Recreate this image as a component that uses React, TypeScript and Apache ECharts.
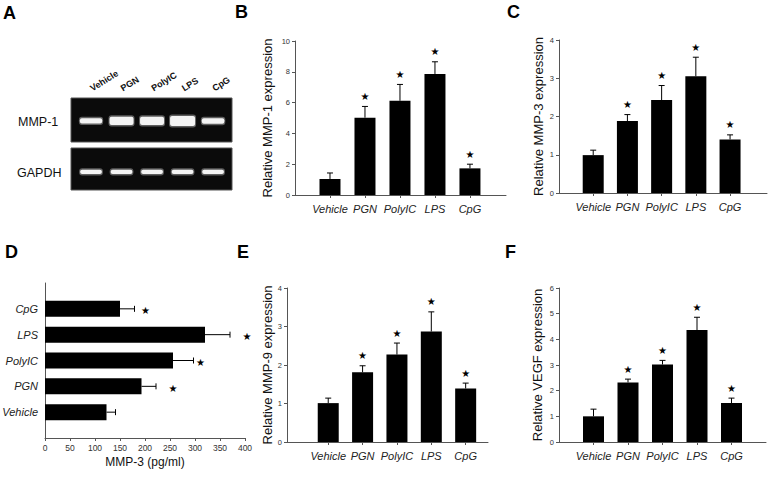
import React, { useEffect, useRef } from 'react';
import * as echarts from 'echarts';

// ---------- data ----------
const categories = ['Vehicle', 'PGN', 'PolyIC', 'LPS', 'CpG'];
const significant = [false, true, true, true, true];

// B: Relative MMP-1 expression
const mmp1Values = [1.04, 5.02, 6.12, 7.86, 1.73];
const mmp1ErrorTop = [1.43, 5.75, 7.18, 8.65, 2.0];
const mmp1Ticks = [0, 2, 4, 6, 8, 10];

// C: Relative MMP-3 expression
const mmp3Values = [0.99, 1.88, 2.43, 3.05, 1.4];
const mmp3ErrorTop = [1.12, 2.05, 2.81, 3.55, 1.52];
const mmp3Ticks = [0, 1, 2, 3, 4];

// D: MMP-3 (pg/ml)
const mmp3PgValues = [123, 193, 256, 320, 150];
const mmp3PgErrorEnd = [141, 222, 297, 370, 179];
const mmp3PgStarAt = [0, 256, 311, 404, 201];
const mmp3PgTicks = [0, 50, 100, 150, 200, 250, 300, 350, 400];

// E: Relative MMP-9 expression
const mmp9Values = [1.01, 1.81, 2.27, 2.87, 1.39];
const mmp9ErrorTop = [1.14, 1.98, 2.57, 3.38, 1.53];
const mmp9Ticks = [0, 1, 2, 3, 4];

// F: Relative VEGF expression
const vegfValues = [1.0, 2.32, 3.02, 4.36, 1.52];
const vegfErrorTop = [1.28, 2.45, 3.18, 4.86, 1.71];
const vegfTicks = [0, 1, 2, 3, 4, 5, 6];

// A: gel band relative intensities
const mmp1Bands = [0.45, 0.8, 0.8, 1.0, 0.5];
const gapdhBands = [0.35, 0.35, 0.35, 0.35, 0.35];

// ---------- styling ----------
const FONT = '"Liberation Sans", Arial, sans-serif';
const AXIS_COLOR = '#555';
const TEXT_COLOR = '#222';
const lanePositions = categories.map((_, i) => i + 1);

function verticalOverlay(params: any, api: any) {
  const x = api.value(0);
  const base = api.coord([x, api.value(1)]);
  const tip = api.coord([x, api.value(2)]);
  const children: any[] = [
    { type: 'line', shape: { x1: tip[0], y1: base[1], x2: tip[0], y2: tip[1] }, style: { stroke: '#000', lineWidth: 1 } },
    { type: 'line', shape: { x1: tip[0] - 3, y1: tip[1], x2: tip[0] + 3, y2: tip[1] }, style: { stroke: '#000', lineWidth: 1 } },
  ];
  if (api.value(3) > 0) {
    children.push({
      type: 'text',
      x: tip[0],
      y: tip[1] - 10,
      style: { text: '★', fill: '#000', fontSize: 10, fontFamily: 'DejaVu Sans', align: 'center', verticalAlign: 'middle' },
    });
  }
  return { type: 'group', children };
}

function horizontalOverlay(params: any, api: any) {
  const y = api.value(1);
  const base = api.coord([api.value(2), y]);
  const end = api.coord([api.value(0), y]);
  const children: any[] = [
    { type: 'line', shape: { x1: base[0], y1: end[1], x2: end[0], y2: end[1] }, style: { stroke: '#000', lineWidth: 1 } },
    { type: 'line', shape: { x1: end[0], y1: end[1] - 3, x2: end[0], y2: end[1] + 3 }, style: { stroke: '#000', lineWidth: 1 } },
  ];
  if (api.value(4) > 0) {
    const s = api.coord([api.value(3), y]);
    children.push({
      type: 'text',
      x: s[0],
      y: s[1] + 2,
      style: { text: '★', fill: '#000', fontSize: 10, fontFamily: 'DejaVu Sans', align: 'center', verticalAlign: 'middle' },
    });
  }
  return { type: 'group', children };
}

function bandRenderer(level: number) {
  return (params: any, api: any) => {
    const c = api.coord([api.value(0), level]);
    const inten = api.value(1);
    const w = 20 + 5 * inten;
    const h = 1 + 9 * inten;
    return {
      type: 'group',
      children: [
        { type: 'rect', shape: { x: c[0] - w / 2 - 1, y: c[1] - h / 2 - 1.5, width: w + 2, height: h + 3, r: 3 }, style: { fill: 'rgba(150,150,150,0.6)' } },
        { type: 'rect', shape: { x: c[0] - w / 2, y: c[1] - h / 2, width: w, height: h, r: 2 }, style: { fill: '#f4f4f4' } },
      ],
    };
  };
}

function buildOption() {
  const grid: any[] = [];
  const xAxis: any[] = [];
  const yAxis: any[] = [];
  const series: any[] = [];

  // ---- A: gels ----
  const gels = [
    { bands: mmp1Bands, grid: { left: 71, top: 98, width: 161, height: 44 }, level: 0.48, labels: true },
    { bands: gapdhBands, grid: { left: 71, top: 148, width: 161, height: 42 }, level: 0.43, labels: false },
  ];
  gels.forEach((g) => {
    const gi = grid.length;
    grid.push({ ...g.grid, show: true, backgroundColor: '#0b0b0b', borderColor: '#555', borderWidth: 1, outerBoundsMode: 'none' });
    xAxis.push({
      type: 'value', gridIndex: gi, min: 0.344, max: 5.62, position: 'top',
      axisLine: { show: false, onZero: false }, axisTick: { show: false }, splitLine: { show: false },
      axisLabel: g.labels
        ? { show: true, customValues: lanePositions, formatter: (v: number) => categories[Math.round(v) - 1] ?? '', rotate: -32, fontSize: 9, fontWeight: 'bold', color: '#111', fontFamily: FONT, margin: 9 }
        : { show: false },
    });
    yAxis.push({ type: 'value', gridIndex: gi, min: 0, max: 1, show: false });
    series.push({
      type: 'custom', xAxisIndex: gi, yAxisIndex: gi, renderItem: bandRenderer(g.level),
      data: g.bands.map((b, i) => [lanePositions[i], b]), silent: true,
    });
  });

  // ---- vertical panels: B, C, E, F ----
  const panels = [
    { yName: 'Relative MMP-1 expression', values: mmp1Values, errTop: mmp1ErrorTop, ticks: mmp1Ticks, grid: { left: 295, top: 41, width: 211, height: 154 }, xRange: [0, 6.03], nameGap: 21 },
    { yName: 'Relative MMP-3 expression', values: mmp3Values, errTop: mmp3ErrorTop, ticks: mmp3Ticks, grid: { left: 559, top: 40, width: 208, height: 153 }, xRange: [0, 6.08], nameGap: 14 },
    { yName: 'Relative MMP-9 expression', values: mmp9Values, errTop: mmp9ErrorTop, ticks: mmp9Ticks, grid: { left: 287, top: 288, width: 201, height: 154 }, xRange: [-0.2, 5.65], nameGap: 9 },
    { yName: 'Relative VEGF expression', values: vegfValues, errTop: vegfErrorTop, ticks: vegfTicks, grid: { left: 559, top: 288, width: 207, height: 154 }, xRange: [0, 6], nameGap: 15 },
  ];
  panels.forEach((p) => {
    const gi = grid.length;
    grid.push({ ...p.grid, outerBoundsMode: 'none' });
    xAxis.push({
      type: 'value', gridIndex: gi, min: p.xRange[0], max: p.xRange[1],
      axisLine: { show: true, onZero: false, lineStyle: { color: AXIS_COLOR, width: 1 } },
      axisTick: { show: true, length: 3, customValues: lanePositions, lineStyle: { color: AXIS_COLOR } },
      axisLabel: { customValues: lanePositions, formatter: (v: number) => categories[Math.round(v) - 1] ?? '', fontStyle: 'italic', fontSize: 11, color: TEXT_COLOR, fontFamily: FONT, margin: 8 },
      splitLine: { show: false },
    });
    yAxis.push({
      type: 'value', gridIndex: gi, min: p.ticks[0], max: p.ticks[p.ticks.length - 1], interval: p.ticks[1] - p.ticks[0],
      name: p.yName, nameLocation: 'middle', nameGap: p.nameGap,
      nameTextStyle: { fontSize: 13, color: '#111', fontFamily: FONT },
      axisLine: { show: true, onZero: false, lineStyle: { color: AXIS_COLOR, width: 1 } },
      axisTick: { show: true, length: 3, lineStyle: { color: AXIS_COLOR } },
      axisLabel: { fontSize: 7.5, color: '#333', fontFamily: FONT, margin: 5 },
      splitLine: { show: false },
    });
    series.push({
      type: 'bar', xAxisIndex: gi, yAxisIndex: gi, barWidth: 21,
      itemStyle: { color: '#000' },
      data: p.values.map((v, i) => [lanePositions[i], v]),
      silent: true,
    });
    series.push({
      type: 'custom', xAxisIndex: gi, yAxisIndex: gi, renderItem: verticalOverlay, silent: true,
      data: p.values.map((v, i) => [lanePositions[i], v, p.errTop[i], significant[i] ? 1 : 0]),
    });
  });

  // ---- D: horizontal panel ----
  const gd = grid.length;
  grid.push({ left: 45, top: 283, width: 200, height: 155, outerBoundsMode: 'none' });
  xAxis.push({
    type: 'value', gridIndex: gd, min: mmp3PgTicks[0], max: mmp3PgTicks[mmp3PgTicks.length - 1], interval: mmp3PgTicks[1] - mmp3PgTicks[0],
    name: 'MMP-3 (pg/ml)', nameLocation: 'middle', nameGap: 18,
    nameTextStyle: { fontSize: 12, color: '#111', fontFamily: FONT },
    axisLine: { show: true, onZero: false, lineStyle: { color: AXIS_COLOR, width: 1 } },
    axisTick: { show: true, length: 3, lineStyle: { color: AXIS_COLOR } },
    axisLabel: { fontSize: 8.5, color: '#333', fontFamily: FONT, margin: 5 },
    splitLine: { show: false },
  });
  yAxis.push({
    type: 'category', gridIndex: gd, data: ['', ...categories, ''], boundaryGap: false,
    axisLine: { show: true, onZero: false, lineStyle: { color: AXIS_COLOR, width: 1 } },
    axisTick: { show: false },
    axisLabel: { fontStyle: 'italic', fontSize: 11, color: TEXT_COLOR, fontFamily: FONT, margin: 7 },
    splitLine: { show: false },
  });
  series.push({
    type: 'bar', xAxisIndex: gd, yAxisIndex: gd, barWidth: 16, itemStyle: { color: '#000' }, silent: true,
    data: categories.map((c, i) => [mmp3PgValues[i], c]),
  });
  series.push({
    type: 'custom', xAxisIndex: gd, yAxisIndex: gd, renderItem: horizontalOverlay, silent: true,
    encode: { x: [0, 2, 3], y: 1 },
    data: categories.map((c, i) => [mmp3PgErrorEnd[i], c, mmp3PgValues[i], mmp3PgStarAt[i], significant[i] ? 1 : 0]),
  });

  const letter = (t: string, x: number, y: number) => ({
    type: 'text', x, y,
    style: { text: t, fontSize: 18, fontWeight: 'bold', fontFamily: FONT, fill: '#000', verticalAlign: 'middle' },
  });

  return {
    animation: false,
    backgroundColor: '#fff',
    grid, xAxis, yAxis, series,
    graphic: [
      letter('A', 3, 13),
      letter('B', 235, 12),
      letter('C', 507, 12),
      letter('D', 5, 252),
      letter('E', 237, 252),
      letter('F', 505, 252),
      { type: 'text', x: 18, y: 122, style: { text: 'MMP-1', fontSize: 12.5, fontFamily: FONT, fill: '#111', verticalAlign: 'middle' } },
      { type: 'text', x: 17, y: 173, style: { text: 'GAPDH', fontSize: 12.5, fontFamily: FONT, fill: '#111', verticalAlign: 'middle' } },
    ],
  };
}

export default function App() {
  const ref = useRef<HTMLDivElement>(null);
  useEffect(() => {
    const chart = echarts.init(ref.current!, null, { renderer: 'svg' });
    chart.setOption(buildOption() as any);
    return () => chart.dispose();
  }, []);
  return <div ref={ref} style={{ position: 'fixed', left: 0, top: 0, width: 770, height: 477, background: '#fff' }} />;
}
